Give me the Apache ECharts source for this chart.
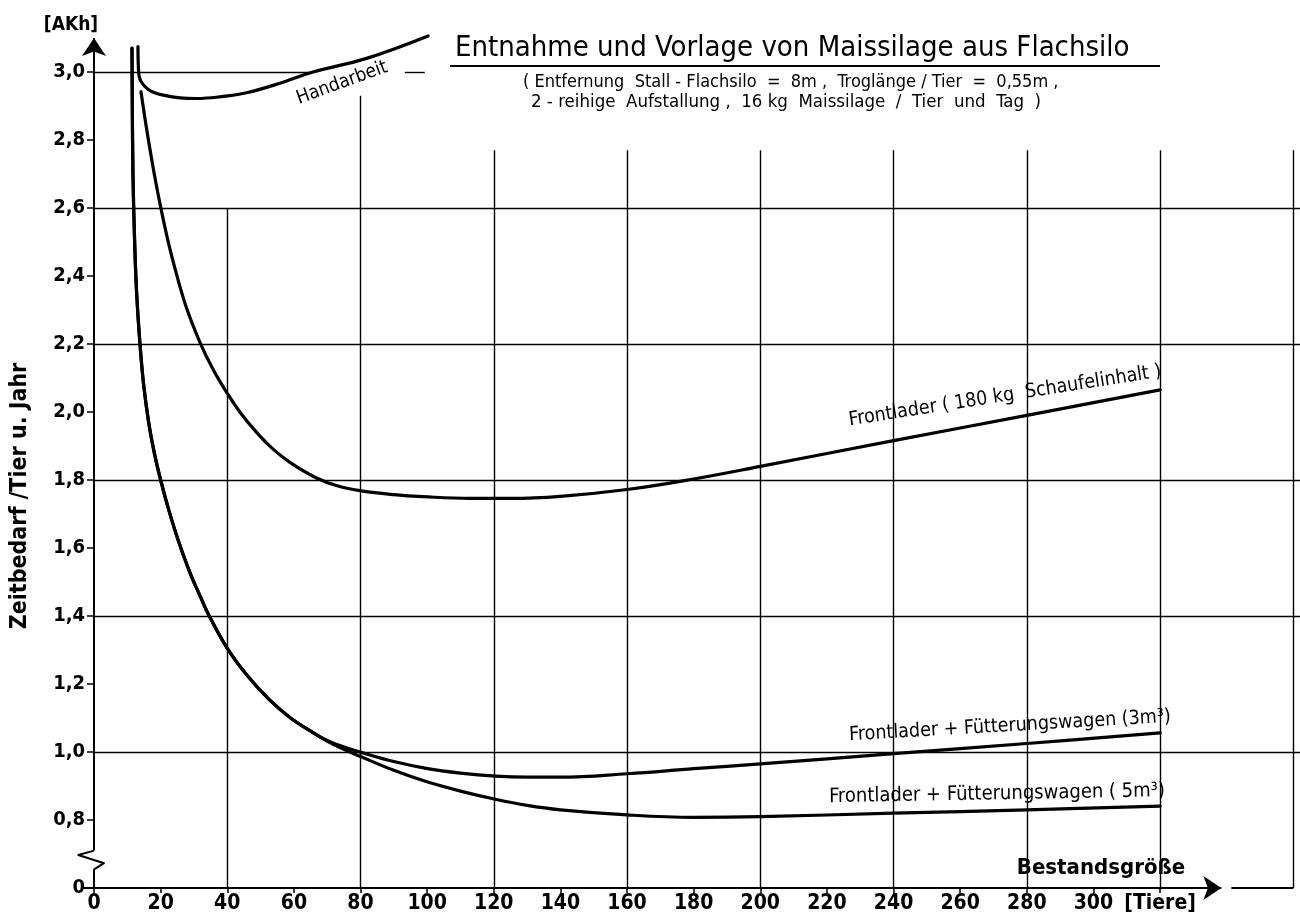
<!DOCTYPE html>
<html><head><meta charset="utf-8">
<script src="https://cdn.jsdelivr.net/npm/echarts@6/dist/echarts.min.js"></script>
<style>html,body{margin:0;padding:0;background:#fff}#c{width:1300px;height:919px}</style>
</head><body><div id="c"></div>
<script>
const FONT = "'DejaVu Sans Condensed','Liberation Sans Narrow','DejaVu Sans',sans-serif";

// ---- data ----
const xTicks = [0,20,40,60,80,100,120,140,160,180,200,220,240,260,280,300,320];
const xTickLabels = ['0','20','40','60','80','100','120','140','160','180','200','220','240','260','280','300','[Tiere]'];
const yTicks = [0.6,0.8,1.0,1.2,1.4,1.6,1.8,2.0,2.2,2.4,2.6,2.8,3.0];
const yTickLabels = ['0','0,8','1,0','1,2','1,4','1,6','1,8','2,0','2,2','2,4','2,6','2,8','3,0'];

const hGridValues = [1.0,1.4,1.8,2.2,2.6];
const vGridValues = [40,80,120,160,200,240,280,320,360];
const vGridTop    = [2.6,2.93,2.77,2.77,2.77,2.77,2.77,2.77,2.77];
const topGridSegments = [[0,65.7],[93.3,99.3]];  // pieces of the 3,0 line

const handarbeit = [[13.2,3.075],[13.3,3.02],[13.6,2.985],[14.6,2.965],[16,2.951],[18,2.94],[20.8,2.932],[25.8,2.924],[30.8,2.922],[37.8,2.927],[45.8,2.939],[55.8,2.967],[65.7,3.0],[81.8,3.04],[100.3,3.106]];
const frontlader180 = [[14.1,2.942],[15.4,2.857],[16.8,2.773],[18.3,2.689],[19.8,2.613],[21.8,2.521],[23.8,2.441],[27.5,2.314],[31.8,2.205],[35.8,2.124],[39.8,2.058],[44,1.997],[48.8,1.94],[53.5,1.893],[58.8,1.852],[66.8,1.806],[73,1.783],[80.3,1.768],[90,1.757],[98.8,1.751],[112.8,1.746],[125,1.746],[140,1.752],[160,1.772],[180,1.803],[200,1.84],[240,1.916],[280,1.99],[320,2.065]];
const fwShared = [[11.4,3.07],[11.5,2.9],[11.7,2.7],[12.2,2.5],[12.8,2.35],[13.8,2.2],[14.9,2.08],[16.4,1.97],[18.1,1.88],[20.0,1.8],[22.5,1.71],[25.2,1.625],[28.7,1.53],[31.8,1.46],[34.6,1.4],[40.0,1.305],[46.0,1.225],[52.7,1.153],[59.0,1.1],[66.1,1.055]];
const fw3Tail = [[70,1.034],[74,1.018],[80.2,0.999],[90,0.972],[99.7,0.952],[110,0.938],[120.5,0.929],[130,0.926],[140,0.926],[160,0.936],[180,0.951],[200,0.965],[240,0.995],[280,1.025],[320,1.056]];
const fw5Tail = [[70,1.032],[74,1.012],[80.2,0.986],[90,0.946],[99.7,0.913],[110,0.885],[120.5,0.861],[130,0.843],[140,0.83],[160,0.815],[180,0.808],[200,0.81],[240,0.82],[280,0.83],[320,0.841]];

const axisBreak = [[0,0.710],[-4.7,0.697],[3.0,0.673],[0,0.655]];

const labels = {
  title: 'Entnahme und Vorlage von Maissilage aus Flachsilo',
  sub1: '( Entfernung  Stall - Flachsilo  =  8m ,  Troglänge / Tier  =  0,55m ,',
  sub2: '2 - reihige  Aufstallung ,  16 kg  Maissilage  /  Tier  und  Tag  )',
  yUnit: '[AKh]',
  yName: 'Zeitbedarf /Tier u. Jahr',
  xName: 'Bestandsgröße',
  hand: 'Handarbeit',
  fl: 'Frontlader ( 180 kg  Schaufelinhalt )',
  fw3: 'Frontlader + Fütterungswagen (3m³)',
  fw5: 'Frontlader + Fütterungswagen ( 5m³)'
};

// ---- chart ----
const chart = echarts.init(document.getElementById('c'), null, {renderer:'canvas'});
const X_MAX = 362, Y_MIN = 0.6, Y_MAX = 3.1;

const gridLines = [];
hGridValues.forEach(v => gridLines.push({coords:[[0,v],[X_MAX,v]]}));
topGridSegments.forEach(s => gridLines.push({coords:[[s[0],3.0],[s[1],3.0]]}));
vGridValues.forEach((v,i) => gridLines.push({coords:[[v,Y_MIN],[v,vGridTop[i]]]}));

const curveStyle = {color:'#000', width:3.2, cap:'round', join:'round'};
function curve(name, data){
  return {type:'line', name, data, showSymbol:false, symbol:'none', smooth:0.4, clip:false,
          lineStyle:curveStyle, z:5, silent:true};
}

const option = {
  backgroundColor:'#fff',
  animation:false,
  grid:{left:94, right:0, top:38, bottom:31, containLabel:false},
  xAxis:{type:'value', min:0, max:X_MAX, interval:20,
    axisLine:{show:false, onZero:false}, splitLine:{show:false},
    axisTick:{show:true, customValues:xTicks, length:5, lineStyle:{color:'#000', width:1.5}},
    axisLabel:{customValues:xTicks, margin:5, color:'#000', fontSize:21, fontFamily:FONT, fontWeight:'bold',
      formatter:(v)=>{const i=xTicks.indexOf(Math.round(v)); return i>=0?xTickLabels[i]:'';}}
  },
  yAxis:{type:'value', min:Y_MIN, max:Y_MAX, interval:0.2,
    axisLine:{show:false}, splitLine:{show:false},
    axisTick:{show:true, customValues:yTicks, length:7, lineStyle:{color:'#000', width:1.5}},
    axisLabel:{customValues:yTicks, margin:9, color:'#000', fontSize:20, fontFamily:FONT, fontWeight:'bold',
      formatter:(v)=>{const i=yTicks.findIndex(t=>Math.abs(t-v)<1e-6); return i>=0?yTickLabels[i]:'';}}
  },
  series:[
    {type:'lines', coordinateSystem:'cartesian2d', polyline:false, clip:false, silent:true, z:2,
     lineStyle:{color:'#000', width:1.4, opacity:1}, symbol:'none', data:gridLines},
    {type:'lines', coordinateSystem:'cartesian2d', polyline:false, clip:false, silent:true, z:3,
     symbol:['none','arrow'], symbolSize:[7,18],
     lineStyle:{color:'#000', width:2, opacity:1},
     data:[{coords:[[0,Y_MIN],[338.4,Y_MIN]]},{coords:[[0,0.710],[0,Y_MAX]]}]},
    {type:'lines', coordinateSystem:'cartesian2d', polyline:false, clip:false, silent:true, z:3,
     symbol:'none', lineStyle:{color:'#000', width:2, opacity:1},
     data:[{coords:[[341.4,Y_MIN],[360,Y_MIN]]},{coords:[[-3.3,Y_MIN],[0,Y_MIN]]},{coords:[[0,Y_MIN],[0,0.655]]}]},
    {type:'lines', coordinateSystem:'cartesian2d', polyline:true, clip:false, silent:true, z:3,
     symbol:'none', lineStyle:{color:'#000', width:2, opacity:1, join:'round'},
     data:[{coords:axisBreak}]},
    curve('Handarbeit', handarbeit),
    curve('Frontlader 180', frontlader180),
    curve('FW 3', fwShared.concat(fw3Tail)),
    curve('FW 5', fwShared.concat(fw5Tail))
  ],
  graphic:[
    {type:'text', x:455, y:48, style:{text:labels.title, font:"29px "+FONT, fill:'#000', align:'left', verticalAlign:'middle'}},
    {type:'line', shape:{x1:450, y1:66, x2:1160, y2:66}, style:{stroke:'#000', lineWidth:2}},
    {type:'text', x:523, y:82, style:{text:labels.sub1, font:"18px "+FONT, fill:'#000', align:'left', verticalAlign:'middle'}},
    {type:'text', x:531, y:102, style:{text:labels.sub2, font:"18.5px "+FONT, fill:'#000', align:'left', verticalAlign:'middle'}},
    {type:'text', x:71, y:25, style:{text:labels.yUnit, font:"bold 19px "+FONT, fill:'#000', align:'center', verticalAlign:'middle'}},
    {type:'text', x:20, y:496, rotation:Math.PI/2, style:{text:labels.yName, font:"bold 23px "+FONT, fill:'#000', align:'center', verticalAlign:'middle'}},
    {type:'text', x:1101, y:868, style:{text:labels.xName, font:"bold 22px "+FONT, fill:'#000', align:'center', verticalAlign:'middle'}},
    {type:'text', x:342, y:83, rotation:20*Math.PI/180, style:{text:labels.hand, font:"19px "+FONT, fill:'#000', align:'center', verticalAlign:'middle'}},
    {type:'text', x:1005, y:396, rotation:8.9*Math.PI/180, style:{text:labels.fl, font:"19.5px "+FONT, fill:'#000', align:'center', verticalAlign:'middle'}},
    {type:'text', x:1010, y:726, rotation:3.3*Math.PI/180, style:{text:labels.fw3, font:"19.5px "+FONT, fill:'#000', align:'center', verticalAlign:'middle'}},
    {type:'text', x:997, y:794, rotation:1*Math.PI/180, style:{text:labels.fw5, font:"20px "+FONT, fill:'#000', align:'center', verticalAlign:'middle'}}
  ]
};
chart.setOption(option);
</script></body></html>
